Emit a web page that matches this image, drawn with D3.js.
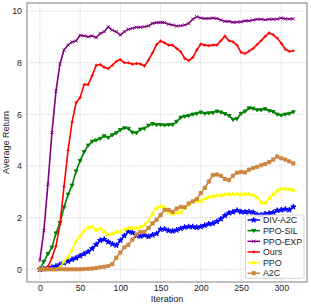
<!DOCTYPE html>
<html><head><meta charset="utf-8">
<script src="https://cdn.jsdelivr.net/npm/d3@7"></script>
<style>body{margin:0;background:#fff}svg{display:block}text{font-family:"Liberation Sans",Arial,sans-serif}</style>
</head><body>
<script>
const iterations = d3.range(0, 316, 5);
const divA2C = [0.0,0.02,0.05,0.08,0.12,0.18,0.25,0.31,0.38,0.44,0.52,0.6,0.68,0.8,0.96,1.12,1.16,1.06,0.98,0.93,1.12,1.3,1.46,1.42,1.3,1.28,1.32,1.27,1.33,1.38,1.55,1.56,1.5,1.48,1.52,1.58,1.63,1.65,1.65,1.62,1.65,1.7,1.76,1.78,1.85,1.95,2.08,2.18,2.22,2.28,2.23,2.22,2.23,2.2,2.12,2.1,2.15,2.17,2.2,2.28,2.3,2.33,2.3,2.42];
const ppoSIL = [0.0,0.3,0.6,0.85,1.4,1.8,2.4,2.9,3.25,3.8,4.2,4.55,4.8,4.95,5.0,5.06,5.16,5.1,5.2,5.28,5.4,5.47,5.45,5.3,5.28,5.42,5.45,5.57,5.63,5.6,5.6,5.58,5.6,5.6,5.72,5.88,5.92,5.95,6.0,6.03,6.08,6.03,6.05,6.06,6.12,6.08,6.02,5.95,5.8,5.83,6.03,6.12,6.24,6.23,6.17,6.17,6.21,6.14,6.1,6.0,5.96,6.0,6.03,6.09];
const ppoEXP = [0.35,1.5,3.3,5.3,6.9,7.95,8.49,8.68,8.8,8.84,9.06,9.04,9.0,9.04,8.97,9.13,9.2,9.39,9.26,9.2,9.07,9.2,9.29,9.33,9.37,9.37,9.39,9.42,9.52,9.55,9.56,9.55,9.49,9.46,9.42,9.43,9.46,9.52,9.68,9.78,9.73,9.71,9.71,9.73,9.71,9.65,9.6,9.6,9.56,9.57,9.58,9.62,9.62,9.65,9.68,9.68,9.66,9.68,9.68,9.69,9.73,9.7,9.69,9.7];
const ours = [0.0,0.0,0.1,0.45,0.9,1.75,3.2,4.6,5.7,6.45,6.65,7.15,7.15,7.5,7.9,7.93,7.82,7.77,7.9,8.05,8.12,8.0,8.0,7.94,7.97,7.95,7.87,8.1,8.38,8.7,8.84,8.77,8.68,8.68,8.55,8.43,8.17,8.08,8.2,8.49,8.72,8.68,8.66,8.68,8.68,8.85,9.03,8.85,8.81,8.68,8.4,8.35,8.45,8.55,8.7,8.85,9.02,9.15,9.08,8.95,8.75,8.52,8.43,8.46];
const ppo = [0,0,0,0,0,0.08,0.3,0.48,0.75,1.08,1.3,1.5,1.62,1.65,1.52,1.58,1.46,1.34,1.38,1.45,1.46,1.54,1.6,1.6,1.6,1.65,1.72,1.88,2.15,2.38,2.45,2.4,2.2,2.15,2.2,2.2,2.38,2.5,2.63,2.65,2.65,2.75,2.8,2.84,2.86,2.88,2.9,2.92,2.92,2.92,2.9,2.92,2.92,2.88,2.78,2.6,2.57,2.75,2.9,3.04,3.12,3.12,3.11,3.07];
const a2c = [0,0,0,0,0,0,0,0,0,0,0,0.01,0.02,0.03,0.05,0.08,0.1,0.13,0.2,0.45,0.65,0.85,0.95,1.15,1.35,1.45,1.45,1.6,1.78,1.92,2.1,2.3,2.3,2.22,2.35,2.42,2.4,2.55,2.63,2.72,2.95,3.15,3.4,3.65,3.67,3.62,3.5,3.45,3.62,3.74,3.77,3.75,3.86,3.92,3.97,4.03,4.08,4.15,4.25,4.37,4.3,4.25,4.18,4.1];
const seriesNames = ["DIV-A2C","PPO-SIL","PPO-EXP","Ours","PPO","A2C"];
const seriesValues = [divA2C, ppoSIL, ppoEXP, ours, ppo, a2c];
const colors = ["#0000ff","#008000","#800080","#ff0000","#ffff00","#cd853f"];
const markers = ["star","tridown","x","plus","triup","square"];
const xTicks = [0,50,100,150,200,250,300];
const yTicks = [0,2,4,6,8,10];

const W=311,H=307, L=27, R=307, T=3, B=282;
const svg = d3.select("body").append("svg").attr("width",W).attr("height",H);
const x = d3.scaleLinear().domain([-16,332]).range([L,R]);
const y = d3.scaleLinear().domain([-0.49,10.31]).range([B,T]);

// grid
const g = svg.append("g");
g.selectAll(".gx").data(xTicks).enter().append("line")
 .attr("x1",d=>x(d)).attr("x2",d=>x(d)).attr("y1",T).attr("y2",B)
 .attr("stroke","#c8c8c8").attr("stroke-width",0.8).attr("stroke-dasharray","1.2,1.2");
g.selectAll(".gy").data(yTicks).enter().append("line")
 .attr("x1",L).attr("x2",R).attr("y1",d=>y(d)).attr("y2",d=>y(d))
 .attr("stroke","#c8c8c8").attr("stroke-width",0.8).attr("stroke-dasharray","1.2,1.2");

// axes
const xa = svg.append("g").attr("transform",`translate(0,${B})`)
 .call(d3.axisBottom(x).tickValues(xTicks).tickSize(0).tickPadding(2.5).tickFormat(d3.format("d")));
const ya = svg.append("g").attr("transform",`translate(${L},0)`)
 .call(d3.axisLeft(y).tickValues(yTicks).tickSize(0).tickPadding(5).tickFormat(d3.format("d")));
[xa,ya].forEach(a=>{a.select(".domain").remove();a.selectAll("line").remove();
 a.selectAll("text").attr("font-size",8.8).attr("fill","#222").attr("font-family","Liberation Sans, Arial, sans-serif");});

// lines
const line = d3.line().x((d,i)=>x(iterations[i])).y(d=>y(d));
function markerPath(type, s){
  switch(type){
    case "star": return d3.symbol(d3.symbolStar, s*s*0.9)();
    case "tridown": return `M${-s*0.6},${-s*0.4}L${s*0.6},${-s*0.4}L0,${s*0.6}Z`;
    case "triup": return `M${-s*0.6},${s*0.4}L${s*0.6},${s*0.4}L0,${-s*0.6}Z`;
    case "x": return `M${-s/2},${-s/2}L${s/2},${s/2}M${-s/2},${s/2}L${s/2},${-s/2}`;
    case "plus": return `M${-s/2},0L${s/2},0M0,${-s/2}L0,${s/2}`;
    case "square": return `M${-s/2},${-s/2}h${s}v${s}h${-s}Z`;
  }
}
seriesValues.forEach((vals,k)=>{
  const gg = svg.append("g");
  gg.append("path").datum(vals).attr("d",line).attr("fill","none")
    .attr("stroke",colors[k]).attr("stroke-width",1.6).attr("stroke-linejoin","round");
  gg.selectAll("path.m").data(vals).enter().append("path").attr("class","m")
    .attr("transform",(d,i)=>`translate(${x(iterations[i])},${y(d)})`)
    .attr("d",markerPath(markers[k],3.2))
    .attr("fill",colors[k]).attr("stroke",colors[k]).attr("stroke-width",0.9);
});

// frame
svg.append("rect").attr("x",L).attr("y",T).attr("width",R-L).attr("height",B-T)
 .attr("fill","none").attr("stroke","#808080").attr("stroke-width",1);

// axis titles
svg.append("text").attr("x",(L+R)/2).attr("y",302).attr("text-anchor","middle")
 .attr("font-size",9).attr("fill","#222").text("Iteration");
svg.append("text").attr("transform",`translate(9,${(T+B)/2}) rotate(-90)`).attr("text-anchor","middle")
 .attr("font-size",9).attr("fill","#222").text("Average Return");

// legend
const lg = svg.append("g");
lg.append("rect").attr("x",245.5).attr("y",215).attr("width",58.5).attr("height",63.3)
 .attr("fill","#fff").attr("fill-opacity",0.85).attr("stroke","#c8c8c8").attr("stroke-width",0.8).attr("rx",1.5);
seriesNames.forEach((n,k)=>{
  const yy = 220 + k*10.65;
  lg.append("line").attr("x1",247.5).attr("x2",260).attr("y1",yy).attr("y2",yy)
    .attr("stroke",colors[k]).attr("stroke-width",1.5);
  lg.append("path").attr("transform",`translate(253.7,${yy})`).attr("d",markerPath(markers[k],3.2))
    .attr("fill",colors[k]).attr("stroke",colors[k]).attr("stroke-width",0.9);
  lg.append("text").attr("x",263).attr("y",yy+3.2).attr("font-size",8.8).attr("fill","#222").text(n);
});
</script>
</body></html>
